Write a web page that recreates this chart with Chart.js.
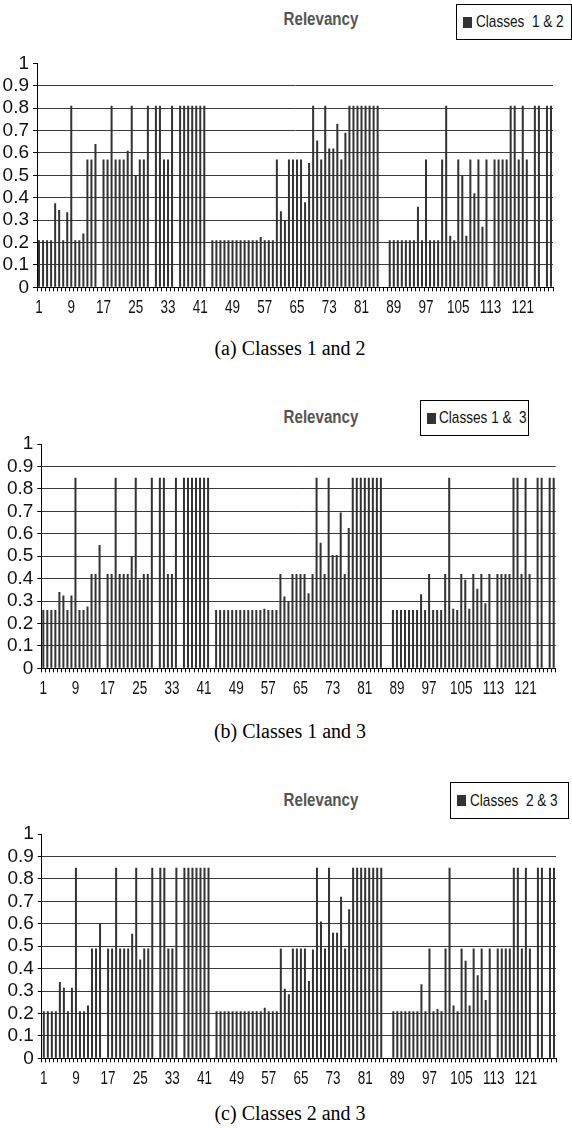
<!DOCTYPE html>
<html><head><meta charset="utf-8">
<script src="https://cdn.jsdelivr.net/npm/chart.js@4.4.0/dist/chart.umd.min.js"></script>
<style>
html,body{margin:0;padding:0;background:#fff}
body{width:572px;height:1128px;position:relative;overflow:hidden;font-family:'Liberation Sans',Arial,sans-serif}
canvas{position:absolute;left:0}
.title{position:absolute;font-weight:bold;color:#555;font-size:18px;line-height:20px;transform:translateX(-50%) scaleX(0.84);white-space:pre}
.legend{position:absolute;border:1px solid #000;box-sizing:border-box;background:#fff;font-size:17px;color:#111;white-space:pre}
.legend .mk{position:absolute;width:9px;height:11px;background:#333}
.legend .tx{position:absolute;line-height:20px;transform:scaleX(0.8);transform-origin:0 50%}
.caption{position:absolute;font-family:'Liberation Serif','Times New Roman',serif;font-size:20px;line-height:22px;color:#000;transform:translateX(-50%);white-space:pre}
</style>
</head><body>
<div class="title" style="left:321px;top:9px">Relevancy</div>
<div class="legend" style="left:456px;top:4px;width:116px;height:36px"><div class="mk" style="left:6px;top:12px"></div><div class="tx" style="left:19px;top:7px">Classes  1 &amp; 2</div></div>
<div class="caption" style="left:290px;top:337px">(a) Classes 1 and 2</div>

<div class="title" style="left:321px;top:407px">Relevancy</div>
<div class="legend" style="left:420px;top:400px;width:109px;height:36px"><div class="mk" style="left:6px;top:12px"></div><div class="tx" style="left:18px;top:7px">Classes 1 &amp;  3</div></div>
<div class="caption" style="left:290px;top:720px">(b) Classes 1 and 3</div>

<div class="title" style="left:321px;top:790px">Relevancy</div>
<div class="legend" style="left:450px;top:782px;width:119px;height:37px"><div class="mk" style="left:6px;top:12px"></div><div class="tx" style="left:19px;top:8px">Classes  2 &amp; 3</div></div>
<div class="caption" style="left:290px;top:1102px">(c) Classes 2 and 3</div>

<canvas id="c1"></canvas>
<canvas id="c2"></canvas>
<canvas id="c3"></canvas>
<script>
// ---- data ----
const categories = [];
for (let i = 1; i <= 128; i++) categories.push(String(i));
const tickLabels = ['1','9','17','25','33','41','49','57','65','73','81','89','97','105','113','121'];
const yTicks = [0,0.1,0.2,0.3,0.4,0.5,0.6,0.7,0.8,0.9,1];

const classes12 = [
 0.21,0.21,0.21,0.21,0.375,0.345,0.21,0.335,0.81,0.21,
 0.21,0.24,0.57,0.57,0.64,0,0.57,0.57,0.81,0.57,
 0.57,0.57,0.61,0.81,0.50,0.57,0.57,0.81,0,0.81,
 0.81,0.57,0.57,0.81,0,0.81,0.81,0.81,0.81,0.81,
 0.81,0.81,0,0.21,0.21,0.21,0.21,0.21,0.21,0.21,
 0.21,0.21,0.21,0.21,0.21,0.225,0.21,0.21,0.21,0.57,
 0.34,0.30,0.57,0.57,0.57,0.57,0.38,0.555,0.81,0.655,
 0.57,0.81,0.62,0.62,0.73,0.57,0.69,0.81,0.81,0.81,
 0.81,0.81,0.81,0.81,0.81,0,0,0.21,0.21,0.21,
 0.21,0.21,0.21,0.21,0.36,0.21,0.57,0.21,0.21,0.21,
 0.57,0.81,0.23,0.21,0.57,0.50,0.23,0.57,0.42,0.57,
 0.27,0.57,0,0.57,0.57,0.57,0.57,0.81,0.81,0.57,
 0.81,0.57,0,0.81,0.81,0,0.81,0.81];

const classes13 = [
 0.26,0.26,0.26,0.26,0.34,0.325,0.26,0.325,0.85,0.26,
 0.26,0.275,0.42,0.42,0.55,0,0.42,0.42,0.85,0.42,
 0.42,0.42,0.50,0.85,0.395,0.42,0.42,0.85,0,0.85,
 0.85,0.42,0.42,0.85,0,0.85,0.85,0.85,0.85,0.85,
 0.85,0.85,0,0.26,0.26,0.26,0.26,0.26,0.26,0.26,
 0.26,0.26,0.26,0.26,0.26,0.265,0.26,0.26,0.26,0.42,
 0.32,0.30,0.42,0.42,0.42,0.42,0.335,0.42,0.85,0.56,
 0.42,0.85,0.505,0.505,0.695,0.42,0.625,0.85,0.85,0.85,
 0.85,0.85,0.85,0.85,0.85,0,0,0.26,0.26,0.26,
 0.26,0.26,0.26,0.26,0.33,0.26,0.42,0.26,0.26,0.26,
 0.42,0.85,0.265,0.26,0.42,0.395,0.265,0.42,0.355,0.42,
 0.29,0.42,0,0.42,0.42,0.42,0.42,0.85,0.85,0.42,
 0.85,0.42,0,0.85,0.85,0,0.85,0.85];

const classes23 = [
 0.21,0.21,0.21,0.21,0.34,0.315,0.21,0.315,0.85,0.21,
 0.21,0.235,0.49,0.49,0.60,0,0.49,0.49,0.85,0.49,
 0.49,0.49,0.555,0.85,0.44,0.49,0.49,0.85,0,0.85,
 0.85,0.49,0.49,0.85,0,0.85,0.85,0.85,0.85,0.85,
 0.85,0.85,0,0.21,0.21,0.21,0.21,0.21,0.21,0.21,
 0.21,0.21,0.21,0.21,0.21,0.225,0.21,0.21,0.21,0.49,
 0.31,0.285,0.49,0.49,0.49,0.49,0.345,0.485,0.85,0.61,
 0.49,0.85,0.56,0.56,0.72,0.49,0.665,0.85,0.85,0.85,
 0.85,0.85,0.85,0.85,0.85,0,0,0.21,0.21,0.21,
 0.21,0.21,0.21,0.21,0.33,0.21,0.49,0.21,0.22,0.21,
 0.49,0.85,0.235,0.21,0.49,0.435,0.235,0.49,0.37,0.49,
 0.26,0.49,0,0.49,0.49,0.49,0.49,0.85,0.85,0.49,
 0.85,0.49,0,0.85,0.85,0,0.85,0.85];

// ---- layout (plot-area boxes in page pixels) ----
const panels = [
  {id:'c1', values:classes12, left:37,   right:553,   top:63.3, bottom:287.3},
  {id:'c2', values:classes13, left:41.3, right:555.7, top:444,  bottom:668.3},
  {id:'c3', values:classes23, left:41.8, right:556,   top:834,  bottom:1058.3}
];

const SANS = "'Liberation Sans',Arial,sans-serif";
const PAD_TOP = 25, X_H = 32, PAD_BOT = 10;

// draws the x category labels of the library's x scale, horizontally condensed like the original
const condensedXLabels = {
  id: 'condensedXLabels',
  afterDraw(chart) {
    const xs = chart.scales.x, ctx = chart.ctx;
    ctx.save();
    ctx.fillStyle = '#111';
    ctx.font = '18px ' + SANS;
    ctx.textAlign = 'center';
    ctx.textBaseline = 'middle';
    xs.ticks.forEach((t, i) => {
      const lab = categories[i];
      if (!tickLabels.includes(lab)) return;
      const x = xs.getPixelForTick(i);
      const y = xs.top + 21;
      ctx.save();
      ctx.translate(x, y);
      ctx.scale(0.75, 1);
      ctx.fillText(lab, 0, 0);
      ctx.restore();
    });
    ctx.restore();
  }
};

panels.forEach(p => {
  const cv = document.getElementById(p.id);
  const cTop = Math.floor(p.top - PAD_TOP);
  const padTop = p.top - cTop;
  const h = Math.ceil(p.bottom - cTop + X_H + PAD_BOT);
  const padBot = h - (p.bottom - cTop) - X_H;
  cv.style.top = cTop + 'px';
  cv.width = 572; cv.height = h;
  cv.style.width = '572px'; cv.style.height = h + 'px';
  new Chart(cv, {
    type: 'bar',
    data: {
      labels: categories,
      datasets: [{
        data: p.values,
        backgroundColor: '#333',
        borderWidth: 0,
        barPercentage: 0.5,
        categoryPercentage: 1.0
      }]
    },
    plugins: [condensedXLabels],
    options: {
      responsive: false,
      animation: false,
      devicePixelRatio: 1,
      layout: { autoPadding: false, padding: { left: 0, right: 572 - p.right, top: padTop, bottom: padBot } },
      plugins: { legend: { display: false }, title: { display: false }, tooltip: { enabled: false } },
      scales: {
        x: {
          offset: true,
          grid: { display: true, drawOnChartArea: false, drawTicks: true, tickLength: 4, color: '#000', tickColor: '#000', offset: true },
          border: { display: true, color: '#000', width: 1 },
          ticks: { display: false, autoSkip: false, maxRotation: 0, minRotation: 0 },
          afterFit: s => { s.height = X_H; }
        },
        y: {
          min: 0, max: 1,
          afterBuildTicks: s => { s.ticks = yTicks.map(v => ({ value: v })); },
          ticks: {
            autoSkip: false, padding: 4, color: '#111', font: { family: SANS, size: 19 },
            callback: v => String(Math.round(v * 10) / 10)
          },
          grid: {
            color: ctx => (ctx.tick && ctx.tick.value >= 1) ? 'rgba(0,0,0,0)' : '#3a3a3a',
            tickColor: '#000', tickLength: 4, lineWidth: 1
          },
          border: { display: true, color: '#000', width: 1 },
          afterFit: s => { s.width = p.left; }
        }
      }
    }
  });
});
</script>
</body></html>
